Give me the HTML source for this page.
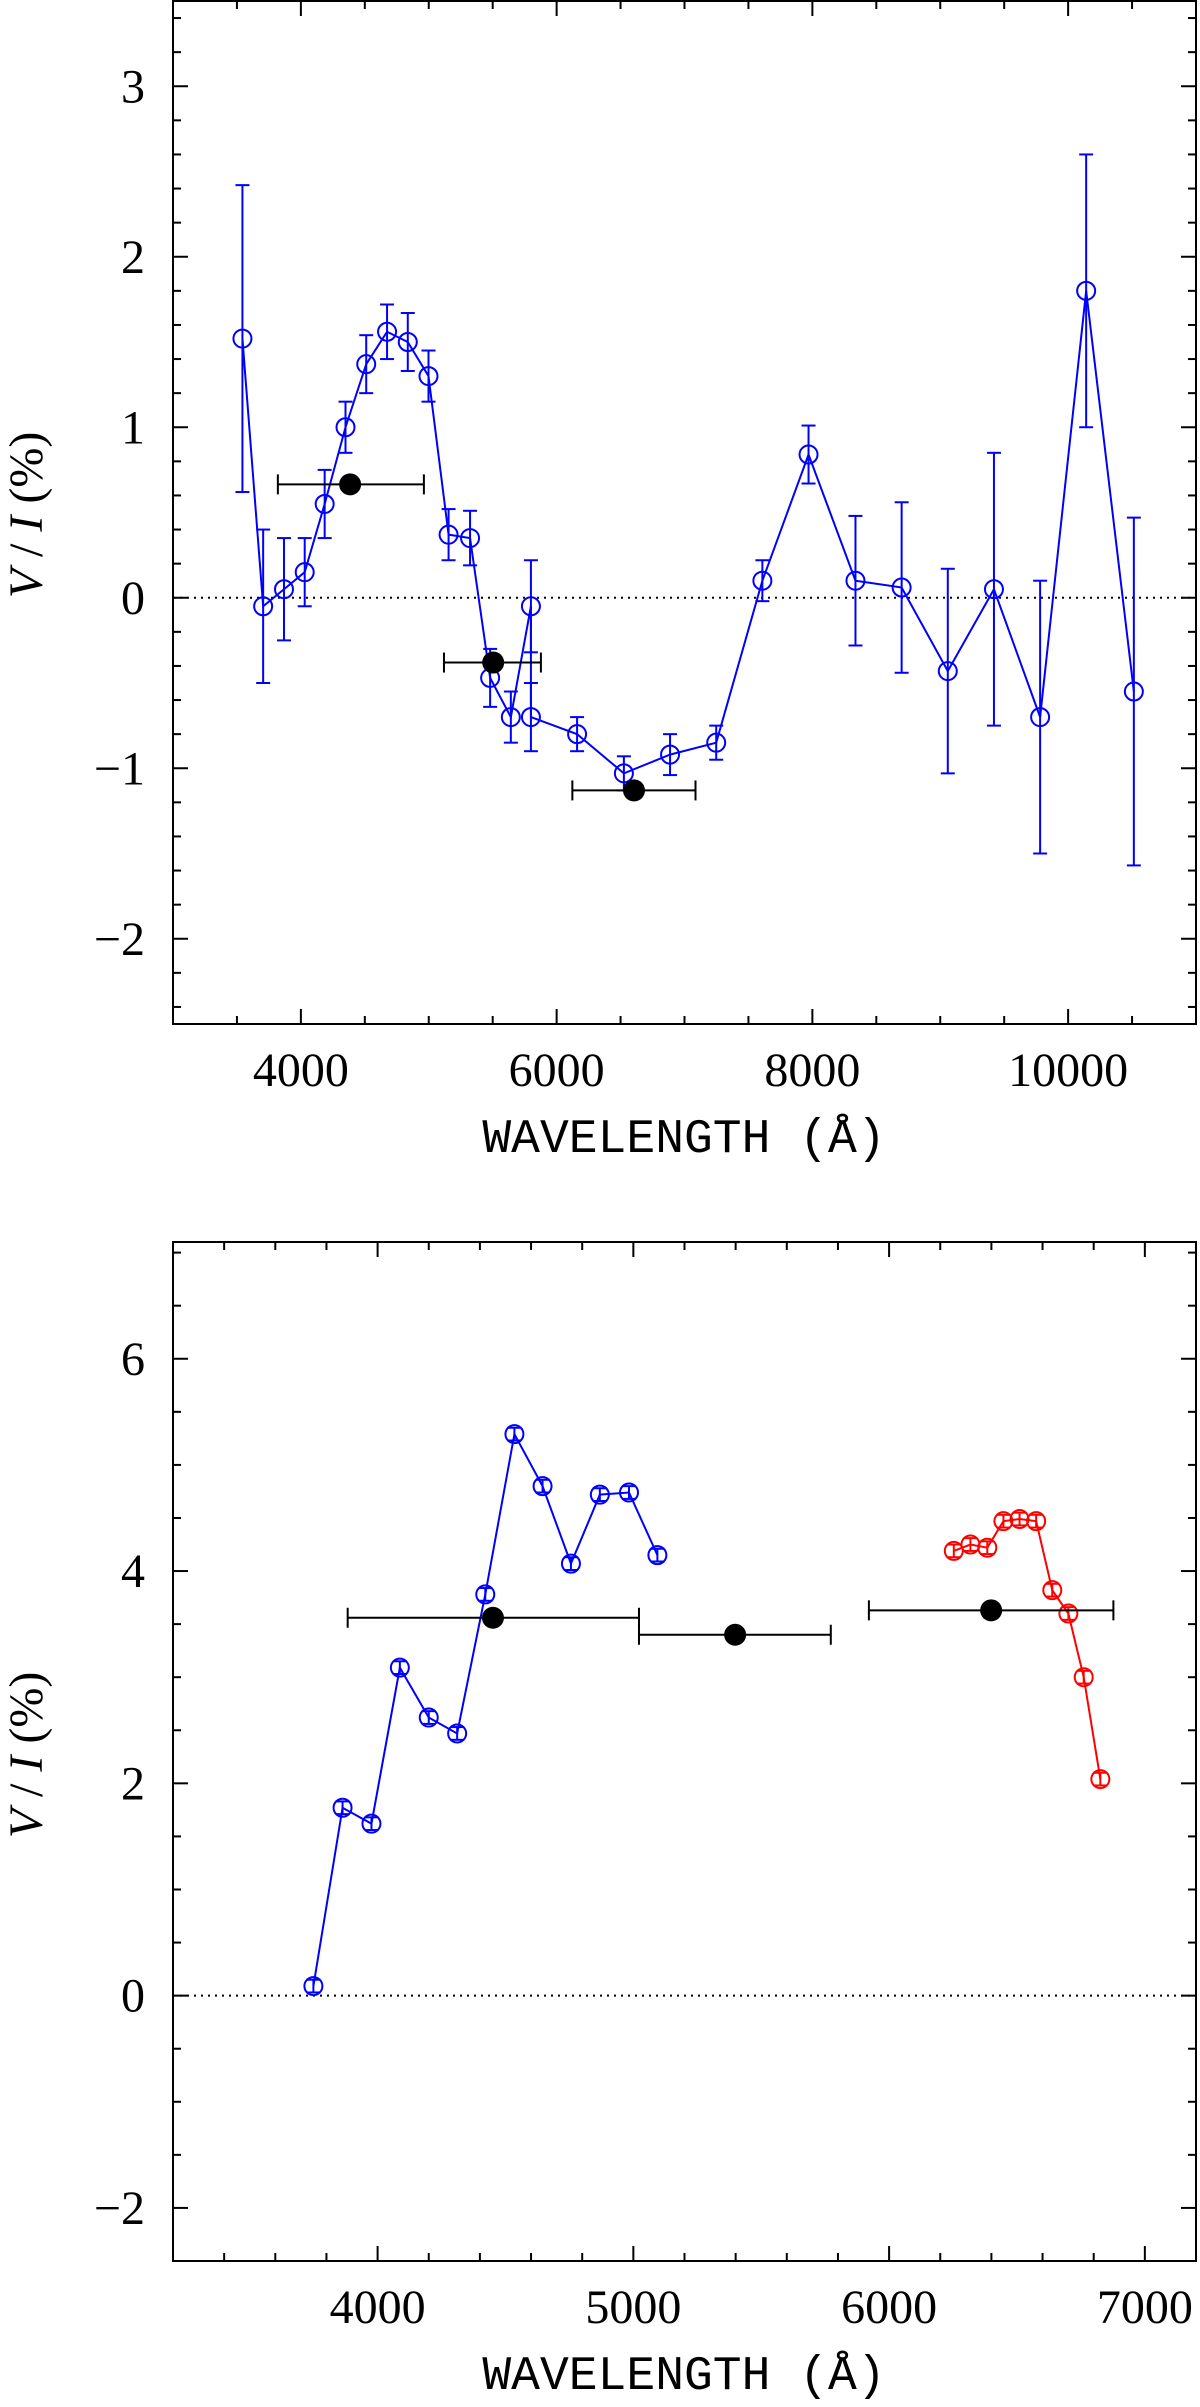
<!DOCTYPE html>
<html><head><meta charset="utf-8"><style>
html,body{margin:0;padding:0;background:#fff;}
svg{display:block;}
.serif{font-family:"Liberation Serif",serif;}
.mono{font-family:"Liberation Mono",monospace;}
</style></head><body>
<svg id="fig" width="1200" height="2407" viewBox="0 0 1200 2407" xmlns="http://www.w3.org/2000/svg"></svg>
<script>
// ---- Top panel data ----
const topX = [3543,3705,3868,4030,4186,4349,4511,4674,4836,4998,5155,5323,5480,5642,5799,5799,6160,6526,6887,7248,7609,7970,8337,8698,9059,9420,9781,10141,10514];
const topY = [1.52,-0.05,0.05,0.15,0.55,1.00,1.37,1.56,1.50,1.30,0.37,0.35,-0.47,-0.70,-0.05,-0.70,-0.80,-1.03,-0.92,-0.85,0.10,0.84,0.10,0.06,-0.43,0.05,-0.70,1.80,-0.55];
const topErr = [0.90,0.45,0.30,0.20,0.20,0.15,0.17,0.16,0.17,0.15,0.15,0.16,0.17,0.15,0.27,0.20,0.10,0.10,0.12,0.10,0.12,0.17,0.38,0.50,0.60,0.80,0.80,0.80,1.02];
const topBX = [4385,5504,6605];
const topBY = [0.665,-0.38,-1.13];
const topBLo = [3820,5119,6123];
const topBHi = [4962,5877,7086];
const topXTicks = [4000,6000,8000,10000];
const topYTicks = [-2,-1,0,1,2,3];
const topYLabels = ["\u22122","\u22121","0","1","2","3"];
// ---- Bottom panel data ----
const botBlueX = [3749,3863,3976,4087,4200,4311,4421,4535,4645,4756,4869,4983,5094];
const botBlueY = [0.09,1.77,1.62,3.09,2.62,2.47,3.78,5.29,4.80,4.07,4.72,4.74,4.15];
const botRedX = [6253,6318,6384,6447,6510,6575,6638,6701,6761,6826];
const botRedY = [4.19,4.25,4.22,4.47,4.49,4.47,3.82,3.60,3.00,2.04];
const botErr = 0.06;
const botBX = [4451,5398,6399];
const botBY = [3.56,3.40,3.63];
const botBLo = [3883,5022,5921];
const botBHi = [5022,5772,6877];
const botXTicks = [4000,5000,6000,7000];
const botYTicks = [-2,0,2,4,6];
const botYLabels = ["\u22122","0","2","4","6"];

const NS="http://www.w3.org/2000/svg";
const svg=document.getElementById('fig');
function mk(tag,attrs,parent){const e=document.createElementNS(NS,tag);for(const k in attrs)e.setAttribute(k,attrs[k]);(parent||svg).appendChild(e);return e;}

function panel(cfg){
  const g=mk('g',{});
  
  
  const L=173,R=1196,T=cfg.top,B=cfg.bottom;
  const sx=v=>L+(v-cfg.x0)/(cfg.x1-cfg.x0)*(R-L);
  const sy=v=>B-(v-cfg.y0)/(cfg.y1-cfg.y0)*(B-T);
  const z=mk('line',{x1:L,x2:R,y1:sy(0),y2:sy(0),stroke:'#000','stroke-width':2,'stroke-dasharray':'2,5'},g);
  
  
  const tg=mk('g',{stroke:'#000','stroke-width':2},g);
  
  
  for(let v=cfg.x0;v<=cfg.x1+1e-6;v+=cfg.xMinor){
    const major=Math.abs(v/cfg.xMajor-Math.round(v/cfg.xMajor))<1e-6;
    const len=major?15:8;const x=sx(v);
    mk('line',{x1:x,x2:x,y1:B,y2:B-len},tg);
    mk('line',{x1:x,x2:x,y1:T,y2:T+len},tg);
  }
  for(let i=Math.ceil(cfg.y0/cfg.yMinor);i*cfg.yMinor<=cfg.y1+1e-6;i++){
    const v=i*cfg.yMinor;
    const major=Math.abs(v/cfg.yMajor-Math.round(v/cfg.yMajor))<1e-6;
    const len=major?15:8;const y=sy(v);
    mk('line',{x1:L,x2:L+len,y1:y,y2:y},tg);
    mk('line',{x1:R,x2:R-len,y1:y,y2:y},tg);
  }
  const fr=mk('rect',{x:L,y:T,width:R-L,height:B-T,fill:'none',stroke:'#000','stroke-width':2},g);
  
  
  cfg.xTicks.forEach(v=>{
    const t=mk('text',{x:sx(v),y:B+62,'text-anchor':'middle','font-size':48,class:'serif'},g);
    
    
    t.textContent=String(v);
  });
  cfg.yTicks.forEach((v,i)=>{
    const t=mk('text',{x:145,y:sy(v)+16,'text-anchor':'end','font-size':48,class:'serif'},g);
    
    
    t.textContent=cfg.yLabels[i];
  });
  const xt=mk('text',{x:684,y:B+128,'text-anchor':'middle','font-size':48,class:'mono'},g);
  
  
  xt.textContent='WAVELENGTH (Å)';
  const yt=mk('text',{x:0,y:0,'text-anchor':'middle','font-size':48,class:'serif',transform:`translate(42,${cfg.ylabY}) rotate(-90)`},g);
  
  
  yt.innerHTML='<tspan font-style="italic">V</tspan> / <tspan font-style="italic">I</tspan>  (%)';
  return {g,sx,sy};
}

function series(p,xs,ys,errs,color,r,cap,name){
  const g=mk('g',{stroke:color,'stroke-width':2,fill:'none'},p.g);
  
  
  const pl=mk('polyline',{points:xs.map((x,i)=>p.sx(x)+','+p.sy(ys[i])).join(' ')},g);
  
  
  xs.forEach((x,i)=>{
    const e=Array.isArray(errs)?errs[i]:errs;
    const X=p.sx(x),y1=p.sy(ys[i]+e),y2=p.sy(ys[i]-e);
    mk('line',{x1:X,x2:X,y1:y1,y2:y2},g);
    mk('line',{x1:X-cap,x2:X+cap,y1:y1,y2:y1},g);
    mk('line',{x1:X-cap,x2:X+cap,y1:y2,y2:y2},g);
    const c=mk('circle',{cx:X,cy:p.sy(ys[i]),r:r,fill:'none'},g);
    
    
  });
}
function black(p,xs,ys,lo,hi,name){
  const g=mk('g',{stroke:'#000','stroke-width':2},p.g);
  
  
  xs.forEach((x,i)=>{
    const Y=p.sy(ys[i]),a=p.sx(lo[i]),b=p.sx(hi[i]);
    mk('line',{x1:a,x2:b,y1:Y,y2:Y},g);
    mk('line',{x1:a,x2:a,y1:Y-10,y2:Y+10},g);
    mk('line',{x1:b,x2:b,y1:Y-10,y2:Y+10},g);
    const c=mk('circle',{cx:p.sx(x),cy:Y,r:11,fill:'#000',stroke:'none'},g);
    
    
  });
}

const p1=panel({name:'top-panel',top:1,bottom:1024,x0:3000,x1:11000,y0:-2.5,y1:3.5,xMinor:500,xMajor:2000,yMinor:0.2,yMajor:1,xTicks:topXTicks,yTicks:topYTicks,yLabels:topYLabels,ylabY:515});
series(p1,topX,topY,topErr,'#0000ff',9,7,'blue-series');
black(p1,topBX,topBY,topBLo,topBHi,'broadband-top');

const p2=panel({name:'bottom-panel',top:1242,bottom:2261,x0:3200,x1:7200,y0:-2.5,y1:7.1,xMinor:200,xMajor:1000,yMinor:0.5,yMajor:2,xTicks:botXTicks,yTicks:botYTicks,yLabels:botYLabels,ylabY:1755});
series(p2,botBlueX,botBlueY,botErr,'#0000ff',9,7,'blue-series');
series(p2,botRedX,botRedY,botErr,'#ff0000',9,7,'red-series');
black(p2,botBX,botBY,botBLo,botBHi,'broadband-bottom');
</script>
</body></html>
